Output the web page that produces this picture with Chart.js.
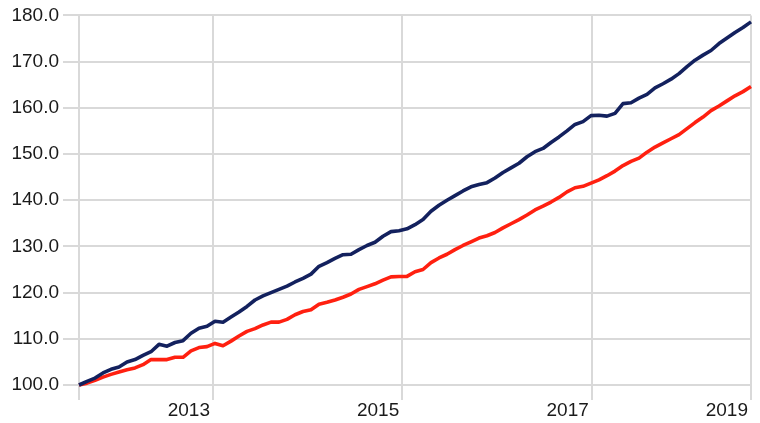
<!DOCTYPE html>
<html>
<head>
<meta charset="utf-8">
<script src="https://cdn.jsdelivr.net/npm/chart.js@4/dist/chart.umd.min.js"></script>
<style>
  html, body { margin: 0; padding: 0; background: #fff; }
  #wrap { width: 760px; height: 423px; }
</style>
</head>
<body>
<div id="wrap"><canvas id="chart" width="760" height="423"></canvas></div>
<script>
// monthly index values
const navySeries = [100.0, 100.8, 101.5, 102.6, 103.4, 103.9, 105.0, 105.5, 106.4, 107.2,
  108.8, 108.4, 109.2, 109.6, 111.2, 112.3, 112.7, 113.8, 113.6, 114.7,
  115.8, 117.0, 118.4, 119.3, 120.0, 120.7, 121.4, 122.3, 123.1, 124.0,
  125.7, 126.5, 127.4, 128.2, 128.3, 129.3, 130.2, 130.9, 132.2, 133.2,
  133.4, 133.8, 134.7, 135.8, 137.6, 138.9, 140.0, 141.0, 142.0, 142.9,
  143.4, 143.8, 144.8, 146.0, 147.0, 148.0, 149.4, 150.5, 151.2, 152.5,
  153.7, 155.0, 156.4, 157.0, 158.3, 158.4, 158.2, 158.8, 160.9, 161.1,
  162.1, 162.9, 164.3, 165.2, 166.2, 167.4, 168.9, 170.3, 171.4, 172.4,
  173.9, 175.1, 176.3, 177.4, 178.6];

const redSeries = [100.0, 100.4, 101.0, 101.7, 102.3, 102.8, 103.3, 103.7, 104.4, 105.5,
  105.5, 105.5, 106.0, 106.0, 107.4, 108.1, 108.3, 109.0, 108.5, 109.5,
  110.6, 111.6, 112.2, 113.0, 113.6, 113.6, 114.2, 115.2, 115.9, 116.3,
  117.5, 117.9, 118.4, 119.0, 119.7, 120.7, 121.3, 121.9, 122.7, 123.4,
  123.5, 123.5, 124.5, 125.0, 126.5, 127.5, 128.3, 129.3, 130.2, 131.0,
  131.8, 132.3, 133.0, 134.0, 134.9, 135.8, 136.8, 137.9, 138.7, 139.6,
  140.6, 141.8, 142.7, 143.0, 143.7, 144.4, 145.3, 146.3, 147.5, 148.4,
  149.1, 150.4, 151.5, 152.4, 153.3, 154.2, 155.5, 156.8, 158.0, 159.4,
  160.4, 161.5, 162.6, 163.5, 164.6];

// x axis ticks (position in months from start) and their labels
const xTickPos = [0, 16.75, 40.4, 64.1, 84];
const xTickLabels = ['', '2013', '2015', '2017', '2019'];

const yMin = 100, yMax = 180, yStep = 10;

const toPoints = arr => arr.map((v, i) => ({ x: i, y: v }));

const gridColor = '#d9d9d9';
const textColor = '#1a1a1a';

new Chart(document.getElementById('chart'), {
  type: 'line',
  data: {
    datasets: [
      {
        data: toPoints(navySeries),
        borderColor: '#13215e',
        borderWidth: 3.6,
        borderJoinStyle: 'round',
        pointRadius: 0,
        tension: 0,
        clip: false
      },
      {
        data: toPoints(redSeries),
        borderColor: '#ff2010',
        borderWidth: 3.6,
        borderJoinStyle: 'round',
        pointRadius: 0,
        tension: 0,
        clip: false
      }
    ]
  },
  options: {
    responsive: false,
    animation: false,
    devicePixelRatio: 1,
    layout: { padding: { top: 13, right: 9, left: 0, bottom: 0 } },
    plugins: { legend: { display: false }, tooltip: { enabled: false } },
    scales: {
      x: {
        type: 'linear',
        min: 0,
        max: navySeries.length - 1,
        afterBuildTicks: scale => {
          scale.ticks = xTickPos.map(v => ({ value: v }));
        },
        afterFit: scale => { scale.height = 38; },
        grid: { color: gridColor, lineWidth: 2, tickLength: 15, tickColor: gridColor },
        border: { display: false },
        ticks: {
          align: 'end',
          labelOffset: -3,
          padding: -1,
          maxRotation: 0,
          autoSkip: false,
          color: textColor,
          font: { family: 'Liberation Sans', size: 19 },
          callback: (value, index) => xTickLabels[index]
        }
      },
      y: {
        min: yMin,
        max: yMax,
        afterFit: scale => { scale.width = 79; },
        grid: { color: gridColor, lineWidth: 2, tickLength: 16, tickColor: gridColor },
        border: { color: gridColor, width: 2 },
        ticks: {
          stepSize: yStep,
          padding: 4,
          color: textColor,
          font: { family: 'Liberation Sans', size: 19 },
          callback: v => v.toFixed(1)
        }
      }
    }
  }
});
</script>
</body>
</html>
